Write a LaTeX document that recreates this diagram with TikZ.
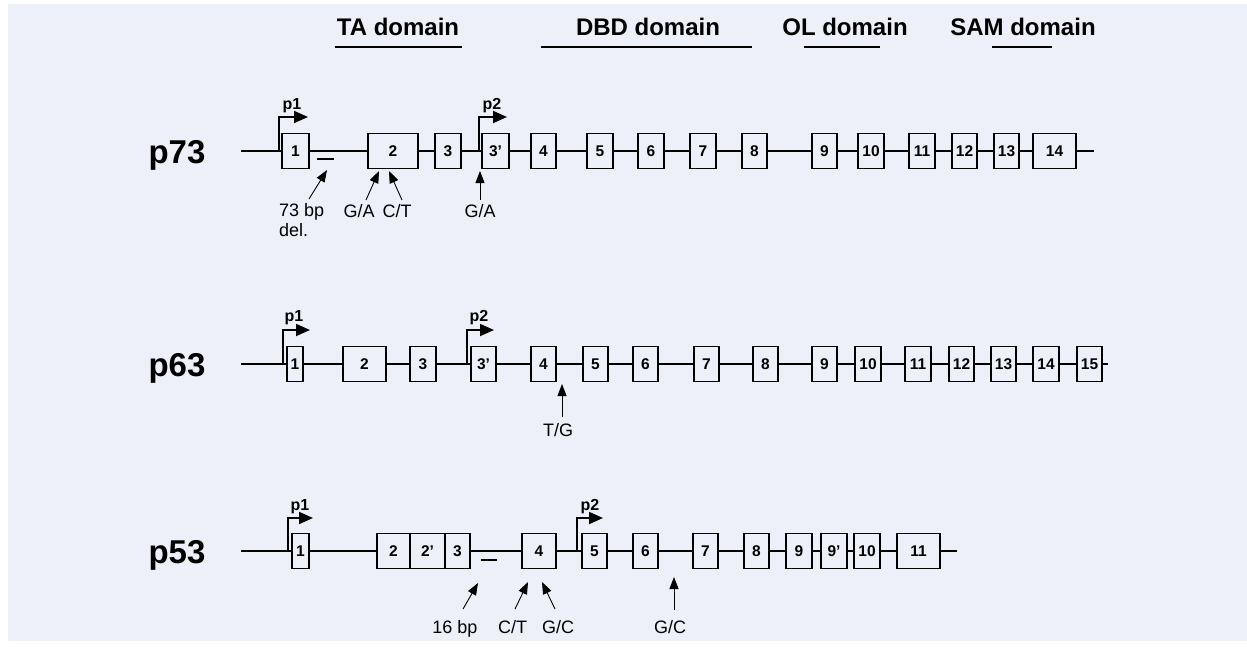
\documentclass[tikz,border=0pt]{standalone}
\usepackage{fontspec}
\setmainfont{Liberation Sans}
\usetikzlibrary{arrows.meta}
\definecolor{panel}{RGB}{237,240,248}
\tikzset{
 exon/.style={draw, line width=1.8pt, fill=panel, minimum height=35pt, inner sep=0pt, text height=11pt, text depth=0pt, font=\fontsize{15.5}{15.5}\selectfont\bfseries},
 backbone/.style={line width=1.8pt},
 thinbone/.style={line width=1.2pt},
 prom/.style={line width=1.8pt, -{Triangle[length=14pt,width=12pt]}},
 mut/.style={line width=0.9pt, -{Triangle[length=12pt,width=9pt]}},
 plabel/.style={font=\fontsize{16}{16}\selectfont\bfseries, inner sep=0pt},
 mlabel/.style={font=\fontsize{18}{20}\selectfont, inner sep=0pt, anchor=base},
 gene/.style={font=\fontsize{33}{33}\selectfont\bfseries, inner sep=0pt, anchor=base},
 domlabel/.style={font=\fontsize{24}{24}\selectfont\bfseries, inner sep=0pt, anchor=base},
 dbar/.style={line width=1.8pt},
 delbar/.style={line width=1.8pt}
}
\newcommand\exn[5]{\node[exon, minimum width=#3pt] (#1) at (#2,#4) {#5};}
\begin{document}
\begin{tikzpicture}[x=1pt,y=-1pt]
\fill[white] (0,0) rectangle (1247,646);
\fill[panel] (8,4) rectangle (1247,641);
\useasboundingbox (0,0) rectangle (1247,646);

% domains
\node[domlabel] (dTA) at (398,35) {TA domain};
\node[domlabel] (dDBD) at (648,35) {DBD domain};
\node[domlabel] (dOL) at (845,35) {OL domain};
\node[domlabel] (dSAM) at (1023,35) {SAM domain};
\draw[dbar] (335,47) -- (462,47);
\draw[dbar] (541,47) -- (752,47);
\draw[dbar] (804,47) -- (880,47);
\draw[dbar] (992,47) -- (1052,47);

% ---------- p73 ----------
\node[gene] (g73) at (177,163) {p73};
\coordinate (s73) at (241,151);
\coordinate (e73) at (1094,151);
\exn{a1}{295.5}{27}{151}{1}
\exn{a2}{393}{50}{151}{2}
\exn{a3}{448}{26}{151}{3}
\exn{a3p}{495.5}{27}{151}{3’}
\exn{a4}{543.5}{25}{151}{4}
\exn{a5}{600}{26}{151}{5}
\exn{a6}{651}{26}{151}{6}
\exn{a7}{703}{26}{151}{7}
\exn{a8}{754.5}{25}{151}{8}
\exn{a9}{824.5}{25}{151}{9}
\exn{a10}{871}{26}{151}{10}
\exn{a11}{922}{26}{151}{11}
\exn{a12}{964.5}{25}{151}{12}
\exn{a13}{1006.5}{25}{151}{13}
\exn{a14}{1054.5}{43}{151}{14}
\draw[backbone] (s73) -- (a1) -- (a2) -- (a3) -- (a3p) -- (a4) -- (a5) -- (a6) -- (a7) -- (a8) -- (a9) -- (a10) -- (a11) -- (a12) -- (a13) -- (a14) -- (e73);
\coordinate (pr73a) at (279,151);
\draw[prom] (pr73a) -- ++(0,-34) -- ++(29,0);
\node[plabel] (t73a) at (292,106) {p1};
\coordinate (pr73b) at (479,151);
\draw[prom] (pr73b) -- ++(0,-34) -- ++(28,0);
\node[plabel] (t73b) at (492,106) {p2};
\draw[delbar] (317,159) -- (334,159);
\node[mlabel, anchor=north west, align=left] (m73a) at (279,203) {73 bp\\del.};
\coordinate (m73at) at (309,199); \coordinate (m73ah) at (327,170);
\draw[mut] (m73at) -- (m73ah);
\node[mlabel] (m73b) at (359,217) {G/A};
\coordinate (m73bt) at (366,200); \coordinate (m73bh) at (379,171);
\draw[mut] (m73bt) -- (m73bh);
\node[mlabel] (m73c) at (397,217) {C/T};
\coordinate (m73ct) at (402,200); \coordinate (m73ch) at (389,171);
\draw[mut] (m73ct) -- (m73ch);
\node[mlabel] (m73d) at (480,217) {G/A};
\coordinate (m73dt) at (480,200); \coordinate (m73dh) at (480,171);
\draw[mut] (m73dt) -- (m73dh);

% ---------- p63 ----------
\node[gene] (g63) at (177,376) {p63};
\coordinate (s63) at (241,364);
\coordinate (e63) at (1108,364);
\exn{b1}{295}{16}{364}{1}
\exn{b2}{364.5}{43}{364}{2}
\exn{b3}{423}{26}{364}{3}
\exn{b3p}{483.5}{25}{364}{3’}
\exn{b4}{543.5}{25}{364}{4}
\exn{b5}{595.5}{25}{364}{5}
\exn{b6}{645.5}{25}{364}{6}
\exn{b7}{706.5}{25}{364}{7}
\exn{b8}{765.5}{25}{364}{8}
\exn{b9}{824.5}{25}{364}{9}
\exn{b10}{868}{26}{364}{10}
\exn{b11}{918}{26}{364}{11}
\exn{b12}{961.5}{25}{364}{12}
\exn{b13}{1003.5}{25}{364}{13}
\exn{b14}{1046}{26}{364}{14}
\exn{b15}{1089.5}{25}{364}{15}
\draw[backbone] (s63) -- (b1) -- (b2) -- (b3) -- (b3p) -- (b4) -- (b5) -- (b6) -- (b7) -- (b8) -- (b9) -- (b10) -- (b11) -- (b12) -- (b13) -- (b14) -- (b15) -- (e63);
\coordinate (pr63a) at (283,364);
\draw[prom] (pr63a) -- ++(0,-34) -- ++(27,0);
\node[plabel] (t63a) at (294,318) {p1};
\coordinate (pr63b) at (467,364);
\draw[prom] (pr63b) -- ++(0,-34) -- ++(27,0);
\node[plabel] (t63b) at (479,318) {p2};
\node[mlabel] (m63a) at (558,436) {T/G};
\coordinate (m63at) at (562,417); \coordinate (m63ah) at (562,384);
\draw[mut] (m63at) -- (m63ah);

% ---------- p53 ----------
\node[gene] (g53) at (177,563) {p53};
\coordinate (s53) at (241,551);
\coordinate (e53) at (957,551);
\exn{c1}{300.5}{17}{551}{1}
\exn{c2}{393.5}{33}{551}{2}
\exn{c2p}{427.5}{35}{551}{2’}
\exn{c3}{457.5}{25}{551}{3}
\exn{c4}{539}{34}{551}{4}
\exn{c5}{594.5}{25}{551}{5}
\exn{c6}{645.5}{25}{551}{6}
\exn{c7}{705.5}{25}{551}{7}
\exn{c8}{756.5}{25}{551}{8}
\exn{c9}{799}{26}{551}{9}
\exn{c9p}{834}{26}{551}{9’}
\exn{c10}{867}{26}{551}{10}
\exn{c11}{918.5}{43}{551}{11}
\draw[thinbone] (s53) -- (c1) -- (c2) (c3) -- (c4) -- (c5) -- (c6) -- (c7) -- (c8) -- (c9) -- (c9p) -- (c10) -- (c11) -- (e53);
\coordinate (pr53a) at (288,551);
\draw[prom] (pr53a) -- ++(0,-33) -- ++(25,0);
\node[plabel] (t53a) at (300,507) {p1};
\coordinate (pr53b) at (577,551);
\draw[prom] (pr53b) -- ++(0,-33) -- ++(26,0);
\node[plabel] (t53b) at (590,507) {p2};
\draw[delbar] (481,560) -- (497,560);
\node[mlabel] (m53a) at (455,633) {16 bp};
\coordinate (m53at) at (463,609); \coordinate (m53ah) at (478,583);
\draw[mut] (m53at) -- (m53ah);
\node[mlabel] (m53b) at (512.5,633) {C/T};
\coordinate (m53bt) at (515,609); \coordinate (m53bh) at (528,582);
\draw[mut] (m53bt) -- (m53bh);
\node[mlabel] (m53c) at (558,633) {G/C};
\coordinate (m53ct) at (555,609); \coordinate (m53ch) at (542,582);
\draw[mut] (m53ct) -- (m53ch);
\node[mlabel] (m53d) at (670,633) {G/C};
\coordinate (m53dt) at (674,610); \coordinate (m53dh) at (674,577);
\draw[mut] (m53dt) -- (m53dh);
\end{tikzpicture}
\end{document}
